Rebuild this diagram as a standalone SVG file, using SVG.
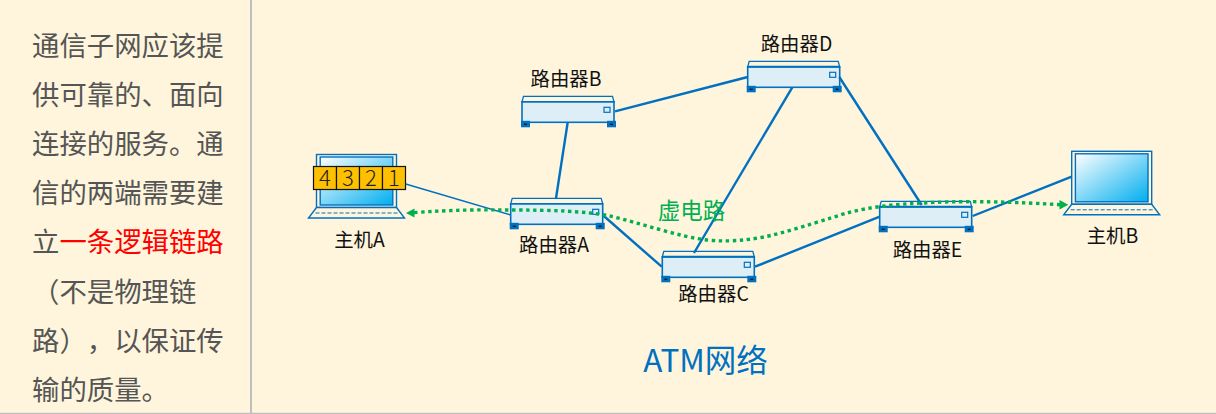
<svg xmlns="http://www.w3.org/2000/svg" width="1216" height="414" viewBox="0 0 1216 414">
<style>
text{font-family:"Noto Sans CJK SC","Microsoft YaHei",sans-serif;text-spacing-trim:space-all;font-feature-settings:"chws" 0,"palt" 0}
.side{font-size:27.4px;fill:#555}
.red{fill:#ff0000}
.lbl{font-size:19.4px;fill:#111;text-anchor:middle}
.body{fill:#deeef6;stroke:#0070c0;stroke-width:1.6}
.cap{fill:#fff5dc;stroke:#0070c0;stroke-width:1.3}
.bar{stroke:#0070c0;stroke-width:var(--bw,2)}
.led{fill:none;stroke:#0070c0;stroke-width:1.2}
.foot{fill:#0070c0}
.dash{stroke:#111;stroke-width:1.2}
.link{fill:none;stroke:#0070c0;stroke-width:2.4}
.thin{stroke-width:1.5}
.vc{fill:none;stroke:#00b050;stroke-width:3.4;stroke-dasharray:3.4 3.6}
.pk{fill:#ffc000;stroke:#111;stroke-width:1.2}
.pt{font-size:22px;fill:#222;text-anchor:middle;font-weight:300;font-family:"Noto Sans CJK SC",sans-serif}
</style>
<defs>
<linearGradient id="scr" x1="0" y1="0" x2="1" y2="1"><stop offset="0" stop-color="#ffffff"/><stop offset="1" stop-color="#00aeef"/></linearGradient>
<g id="router">
<path class="cap" d="M1.5 0H90.5L92 5.5H0Z"/>
<rect class="body" x="0" y="5.5" width="92" height="20.5"/>
<line class="bar" x1="0" y1="5.5" x2="92" y2="5.5"/>
<rect class="led" x="82" y="11" width="6" height="5"/>
<rect class="foot" x="-1" y="24.5" width="9" height="6.5"/>
<rect class="foot" x="85" y="24.5" width="9" height="6.5"/>
<line class="dash" x1="2" y1="28" x2="5" y2="28"/>
<line class="dash" x1="88" y1="28" x2="91" y2="28"/>
</g>
<g id="laptop">
<rect x="0" y="0" width="80" height="53" fill="#fff5dc" stroke="#0070c0" stroke-width="1.4"/>
<rect x="3.7" y="2.5" width="72.6" height="48" fill="url(#scr)" stroke="#0070c0" stroke-width="1.4"/>
<path d="M0 53H80L88 63.5H-8Z" fill="#fff5dc" stroke="#0070c0" stroke-width="1.4"/>
<line x1="-1" y1="58.5" x2="81" y2="58.5" stroke="#0070c0" stroke-width="1" stroke-dasharray="4 2"/>
</g>
</defs>
<rect x="0" y="0" width="1216" height="414" fill="#fff5dc"/>
<line x1="251" y1="0" x2="251" y2="413" stroke="#bfbfbf" stroke-width="2"/>
<line x1="0" y1="413.5" x2="1216" y2="413.5" stroke="#bfbfbf" stroke-width="1.5"/>
<g id="sidebar" class="side">
<text x="32" y="56">通信子网应该提</text>
<text x="32" y="105">供可靠的、面向</text>
<text x="32" y="154">连接的服务。通</text>
<text x="32" y="203">信的两端需要建</text>
<text x="32" y="252">立<tspan class="red">一条逻辑链路</tspan></text>
<text x="32" y="302">（不是物理链</text>
<text x="32" y="351">路），以保证传</text>
<text x="32" y="400">输的质量。</text>
</g>
<g id="hostA"><use href="#laptop" x="316.5" y="154.5"/><text class="lbl" x="359.5" y="246.5">主机A</text></g>
<g id="hostB"><use href="#laptop" x="1071.7" y="151.3"/><text class="lbl" x="1112.5" y="243">主机B</text></g>
<g id="routerA" style="--bw:1"><use href="#router" x="510.7" y="198.3"/><text class="lbl" x="554" y="252">路由器A</text></g>
<g id="routerB" style="--bw:1"><use href="#router" x="522" y="96.3"/><text class="lbl" x="566" y="86">路由器B</text></g>
<g id="routerC"><use href="#router" x="662.3" y="251.3"/><text class="lbl" x="713.5" y="300.5">路由器C</text></g>
<g id="routerD"><use href="#router" x="747.7" y="61.3"/><text class="lbl" x="796.5" y="51">路由器D</text></g>
<g id="routerE"><use href="#router" x="879.7" y="201.3"/><text class="lbl" x="927.5" y="257">路由器E</text></g>
<g id="packet">
<rect class="pk" x="313.5" y="166.5" width="23" height="23"/>
<rect class="pk" x="336.5" y="166.5" width="23" height="23"/>
<rect class="pk" x="359.5" y="166.5" width="23" height="23"/>
<rect class="pk" x="382.5" y="166.5" width="23" height="23"/>
<text class="pt" x="325" y="186">4</text>
<text class="pt" x="348" y="186">3</text>
<text class="pt" x="371" y="186">2</text>
<text class="pt" x="394" y="186">1</text>
</g>
<g id="connectors">
<line class="link thin" x1="405.7" y1="184" x2="510.7" y2="215"/>
<line class="link" x1="556" y1="198.3" x2="567.7" y2="122.3"/>
<line class="link" x1="615" y1="111.3" x2="747.7" y2="77"/>
<line class="link" x1="792.3" y1="87.3" x2="694" y2="253"/>
<line class="link" x1="839.3" y1="77" x2="921.7" y2="205"/>
<line class="link" x1="602.7" y1="215" x2="661.7" y2="266.7"/>
<line class="link" x1="755" y1="266.7" x2="879.7" y2="216.7"/>
<line class="link" x1="972.7" y1="216" x2="1071.7" y2="176.7"/>
<path class="vc" d="M414 212.6C450 210 480 209.5 510 210C550 210 585 211 610 216C640 223 680 237 707 240C735 243 760 238 773 235C800 228 830 218 847 213C870 207 895 204 923 203C955 201 1000 201 1060 204.7"/>
<path d="M406 213L414.5 208.5V217.5Z" fill="#00b050"/>
<path d="M1068.3 204.7L1059.5 200V209.5Z" fill="#00b050"/>
</g>
<text x="691.5" y="219" font-size="22.5" fill="#00b050" text-anchor="middle">虚电路</text>
<text x="705.5" y="372" font-size="31.5" fill="#0070c0" text-anchor="middle">ATM网络</text>
</svg>
